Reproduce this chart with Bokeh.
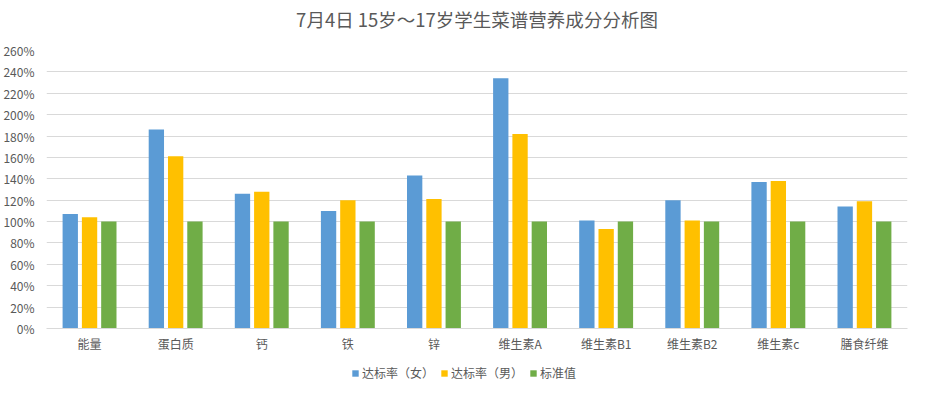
from bokeh.plotting import figure
from bokeh.layouts import column
from bokeh.models import ColumnDataSource, FactorRange, Range1d, FixedTicker, PrintfTickFormatter, Legend, LegendItem, Label
from bokeh.transform import dodge
from bokeh.embed import file_html
from bokeh.resources import INLINE

title_text = "7月4日 15岁～17岁学生菜谱营养成分分析图"
categories = ["能量", "蛋白质", "钙", "铁", "锌", "维生素A", "维生素B1", "维生素B2", "维生素c", "膳食纤维"]
female = [107, 186, 126, 110, 143, 234, 101, 120, 137, 114]
male = [104, 161, 128, 120, 121, 182, 93, 101, 138, 119]
standard = [100, 100, 100, 100, 100, 100, 100, 100, 100, 100]
series_names = ["达标率（女）", "达标率（男）", "标准值"]
series_colors = ["#5B9BD5", "#FFC000", "#70AD47"]
y_ticks = [0, 20, 40, 60, 80, 100, 120, 140, 160, 180, 200, 220, 240, 260]

FONT = "Noto Sans CJK SC"
TXT = "#595959"
GRID = "#D9D9D9"


def strip(height):
    f = figure(width=914, height=height, output_backend="svg", toolbar_location=None,
               x_range=Range1d(0, 1), y_range=Range1d(0, 1),
               min_border_left=0, min_border_right=0, min_border_top=0, min_border_bottom=0)
    f.axis.visible = False
    f.grid.visible = False
    f.outline_line_color = None
    f.border_fill_color = "white"
    return f


# title strip
tt = strip(36)
tt.add_layout(Label(x=0.5, y=0.5, text=title_text, text_align="center", text_baseline="middle",
                    text_font=FONT, text_font_size="18.5px", text_color=TXT))

# main chart
source = ColumnDataSource(dict(cat=categories, female=female, male=male, standard=standard))

p = figure(
    width=914, height=320,
    x_range=FactorRange(*categories, range_padding=0),
    y_range=Range1d(0, 260),
    output_backend="svg", toolbar_location=None,
    min_border_left=36, min_border_right=7, min_border_top=14, min_border_bottom=28,
)

offsets = [-0.224, 0.0, 0.224]
fields = ["female", "male", "standard"]
for off, fld, col in zip(offsets, fields, series_colors):
    p.vbar(x=dodge("cat", off, range=p.x_range), top=fld, width=0.178, bottom=0,
           source=source, fill_color=col, line_color=None)

p.outline_line_color = None
p.background_fill_color = "white"
p.border_fill_color = "white"

p.xgrid.grid_line_color = None
p.ygrid.grid_line_color = GRID
p.ygrid.ticker = FixedTicker(ticks=y_ticks)

p.yaxis.ticker = FixedTicker(ticks=y_ticks)
p.yaxis.formatter = PrintfTickFormatter(format="%d%%")
p.yaxis.axis_line_color = None
p.yaxis.major_tick_line_color = None
p.yaxis.minor_tick_line_color = None
p.yaxis.major_label_text_font = FONT
p.yaxis.major_label_text_font_size = "12px"
p.yaxis.major_label_text_color = TXT
p.yaxis.major_label_standoff = 6

p.xaxis.axis_line_color = GRID
p.xaxis.major_tick_line_color = None
p.xaxis.minor_tick_line_color = None
p.xaxis.major_label_text_font = FONT
p.xaxis.major_label_text_font_size = "12px"
p.xaxis.major_label_text_color = TXT
p.xaxis.major_label_standoff = 0

# legend strip below the chart (proxy glyphs lie outside the strip's visible range)
lg = strip(30)
items = []
for name, col in zip(series_names, series_colors):
    r = lg.rect(x=[-5], y=[-5], width=0.01, height=0.01, fill_color=col, line_color=None)
    items.append(LegendItem(label=name, renderers=[r]))
legend = Legend(
    items=items, orientation="horizontal", location=(305, 5),
    label_text_font=FONT, label_text_font_size="12px", label_text_color=TXT,
    glyph_width=8, glyph_height=8, label_standoff=3, spacing=6,
    border_line_color=None, background_fill_alpha=0, padding=0, margin=0,
)
lg.add_layout(legend, "center")

layout = column(tt, p, lg, spacing=0)
open("out.html", "w").write(file_html(layout, INLINE))
